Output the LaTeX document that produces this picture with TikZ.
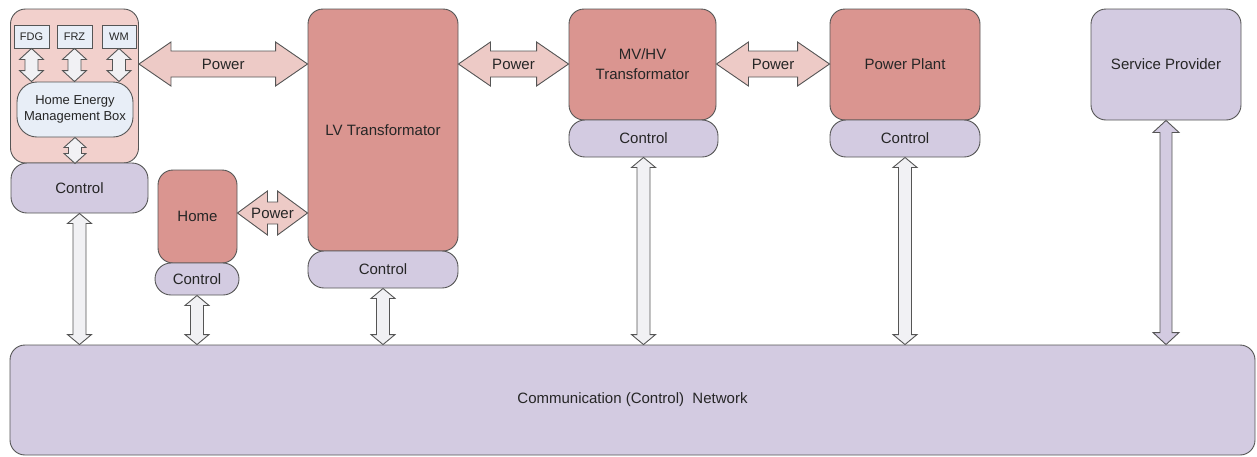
\documentclass[tikz,border=0pt]{standalone}
\usepackage{fontspec}
\setmainfont{Liberation Sans}
\usetikzlibrary{calc}
\definecolor{boxred}{HTML}{DA9590}
\definecolor{homepink}{HTML}{F2D0CC}
\definecolor{powerpink}{HTML}{EDCAC6}
\definecolor{ctrlpurple}{HTML}{D3CBE1}
\definecolor{lightblue}{HTML}{E8EEF7}
\definecolor{arrowgrey}{HTML}{F1F1F4}
\definecolor{linec}{HTML}{555555}
\newcommand\VArr[6]{%
  \draw[#1] let \p1=(#2), \p2=(#3) in
    (\x1,\y1) -- (\x1+#5,\y1-#6) -- (\x1+#4,\y1-#6) -- (\x1+#4,\y2+#6) -- (\x1+#5,\y2+#6)
    -- (\x1,\y2) -- (\x1-#5,\y2+#6) -- (\x1-#4,\y2+#6) -- (\x1-#4,\y1-#6) -- (\x1-#5,\y1-#6) -- cycle;}
\newcommand\HArr[6]{%
  \draw[#1] let \p1=(#2), \p2=(#3) in
    (\x1,\y1) -- (\x1+#6,\y1+#5) -- (\x1+#6,\y1+#4) -- (\x2-#6,\y1+#4) -- (\x2-#6,\y1+#5)
    -- (\x2,\y1) -- (\x2-#6,\y1-#5) -- (\x2-#6,\y1-#4) -- (\x1+#6,\y1-#4) -- (\x1+#6,\y1-#5) -- cycle;}
\tikzset{
  base/.style={draw=linec, line width=0.9pt, inner sep=0pt, align=center, text=black!85,
    font=\fontsize{15}{20}\selectfont},
  redbox/.style={base, fill=boxred, rounded corners=15pt},
  ctrlbox/.style={base, fill=ctrlpurple, rounded corners=16pt},
  devbox/.style={base, fill=lightblue, font=\fontsize{11}{13}\selectfont},
  hembox/.style={base, fill=lightblue, rounded corners=20pt, font=\fontsize{13}{16}\selectfont},
  outerbox/.style={base, fill=homepink, rounded corners=15pt},
  powerarrow/.style={draw=linec, line width=0.9pt, fill=powerpink},
  ctrlarrow/.style={draw=linec, line width=0.9pt, fill=arrowgrey},
  sparrow/.style={draw=linec, line width=0.9pt, fill=ctrlpurple},
  plabel/.style={inner sep=0pt, text=black!85, font=\fontsize{15}{18}\selectfont},
}
\begin{document}
\begin{tikzpicture}[x=1pt, y=-1pt]
\useasboundingbox (0,0) rectangle (1257,456);
% boxes
\node[outerbox, minimum width=128pt, minimum height=154pt] (homeouter) at (74.5,86) {};
\node[ctrlbox, minimum width=137pt, minimum height=50pt] (ctrl1) at (79.5,188) {Control};
\node[devbox, minimum width=35pt, minimum height=23pt] (fdg) at (31.5,36.5) {FDG};
\node[devbox, minimum width=35pt, minimum height=23pt] (frz) at (74.5,36.5) {FRZ};
\node[devbox, minimum width=34pt, minimum height=23pt] (wm) at (119,36.5) {WM};
\node[hembox, minimum width=116pt, minimum height=55pt] (hemb) at (75,109.5) {Home Energy\\Management Box};
\node[redbox, minimum width=150pt, minimum height=242pt] (lv) at (383,130) {LV Transformator};
\node[ctrlbox, minimum width=150pt, minimum height=37pt] (lvctrl) at (383,269.5) {Control};
\node[redbox, minimum width=79pt, minimum height=93pt] (home) at (197.5,216.5) {Home};
\node[ctrlbox, minimum width=84pt, minimum height=32pt] (homectrl) at (197,279) {Control};
\node[redbox, minimum width=147pt, minimum height=111pt] (mv) at (642.5,64.5) {MV/HV\\Transformator};
\node[ctrlbox, minimum width=149pt, minimum height=37pt] (mvctrl) at (643.5,138.5) {Control};
\node[redbox, minimum width=150pt, minimum height=111pt] (pp) at (905,64.5) {Power Plant};
\node[ctrlbox, minimum width=150pt, minimum height=37pt] (ppctrl) at (905,138.5) {Control};
\node[ctrlbox, rounded corners=15pt, minimum width=150pt, minimum height=111pt] (sp) at (1166,64.5) {Service Provider};
\node[ctrlbox, rounded corners=15pt, minimum width=1245pt, minimum height=110pt] (net) at (632.5,400) {Communication (Control)\ \ Network};
% power arrows
\coordinate (pw) at (0,64);
\coordinate (pw2) at (0,213);
\coordinate (p1a) at (homeouter.east |- pw);
\coordinate (p1b) at (lv.west |- pw);
\coordinate (p2a) at (home.east |- pw2);
\coordinate (p2b) at (lv.west |- pw2);
\coordinate (p3a) at (lv.east |- pw);
\coordinate (p3b) at (mv.west |- pw);
\coordinate (p4a) at (mv.east |- pw);
\coordinate (p4b) at (pp.west |- pw);
\HArr{powerarrow}{p1a}{p1b}{13pt}{22pt}{32pt}
\HArr{powerarrow}{p2a}{p2b}{11pt}{22pt}{30pt}
\HArr{powerarrow}{p3a}{p3b}{13pt}{22pt}{32pt}
\HArr{powerarrow}{p4a}{p4b}{13pt}{22pt}{32pt}
\node[plabel] (pl1) at ($(p1a)!0.5!(p1b)$) {Power};
\node[plabel] (pl2) at ($(p2a)!0.5!(p2b)$) {Power};
\node[plabel] (pl3) at ($(p3a)!0.5!(p3b)$) {Power};
\node[plabel] (pl4) at ($(p4a)!0.5!(p4b)$) {Power};
% control arrows
\VArr{ctrlarrow}{fdg.south}{hemb.north -| fdg.south}{6.5pt}{12pt}{11pt}
\VArr{ctrlarrow}{frz.south}{hemb.north -| frz.south}{6.5pt}{12pt}{11pt}
\VArr{ctrlarrow}{wm.south}{hemb.north -| wm.south}{6.5pt}{12pt}{11pt}
\VArr{ctrlarrow}{hemb.south}{homeouter.south -| hemb.south}{6.5pt}{11pt}{10pt}
\VArr{ctrlarrow}{ctrl1.south}{net.north -| ctrl1.south}{6.5pt}{12pt}{10pt}
\VArr{ctrlarrow}{homectrl.south}{net.north -| homectrl.south}{6.5pt}{12pt}{10pt}
\VArr{ctrlarrow}{lvctrl.south}{net.north -| lvctrl.south}{6.5pt}{12pt}{10pt}
\VArr{ctrlarrow}{mvctrl.south}{net.north -| mvctrl.south}{6.5pt}{12pt}{10pt}
\VArr{ctrlarrow}{ppctrl.south}{net.north -| ppctrl.south}{6.5pt}{12pt}{10pt}
\VArr{sparrow}{sp.south}{net.north -| sp.south}{6pt}{13pt}{12pt}
\end{tikzpicture}
\end{document}
